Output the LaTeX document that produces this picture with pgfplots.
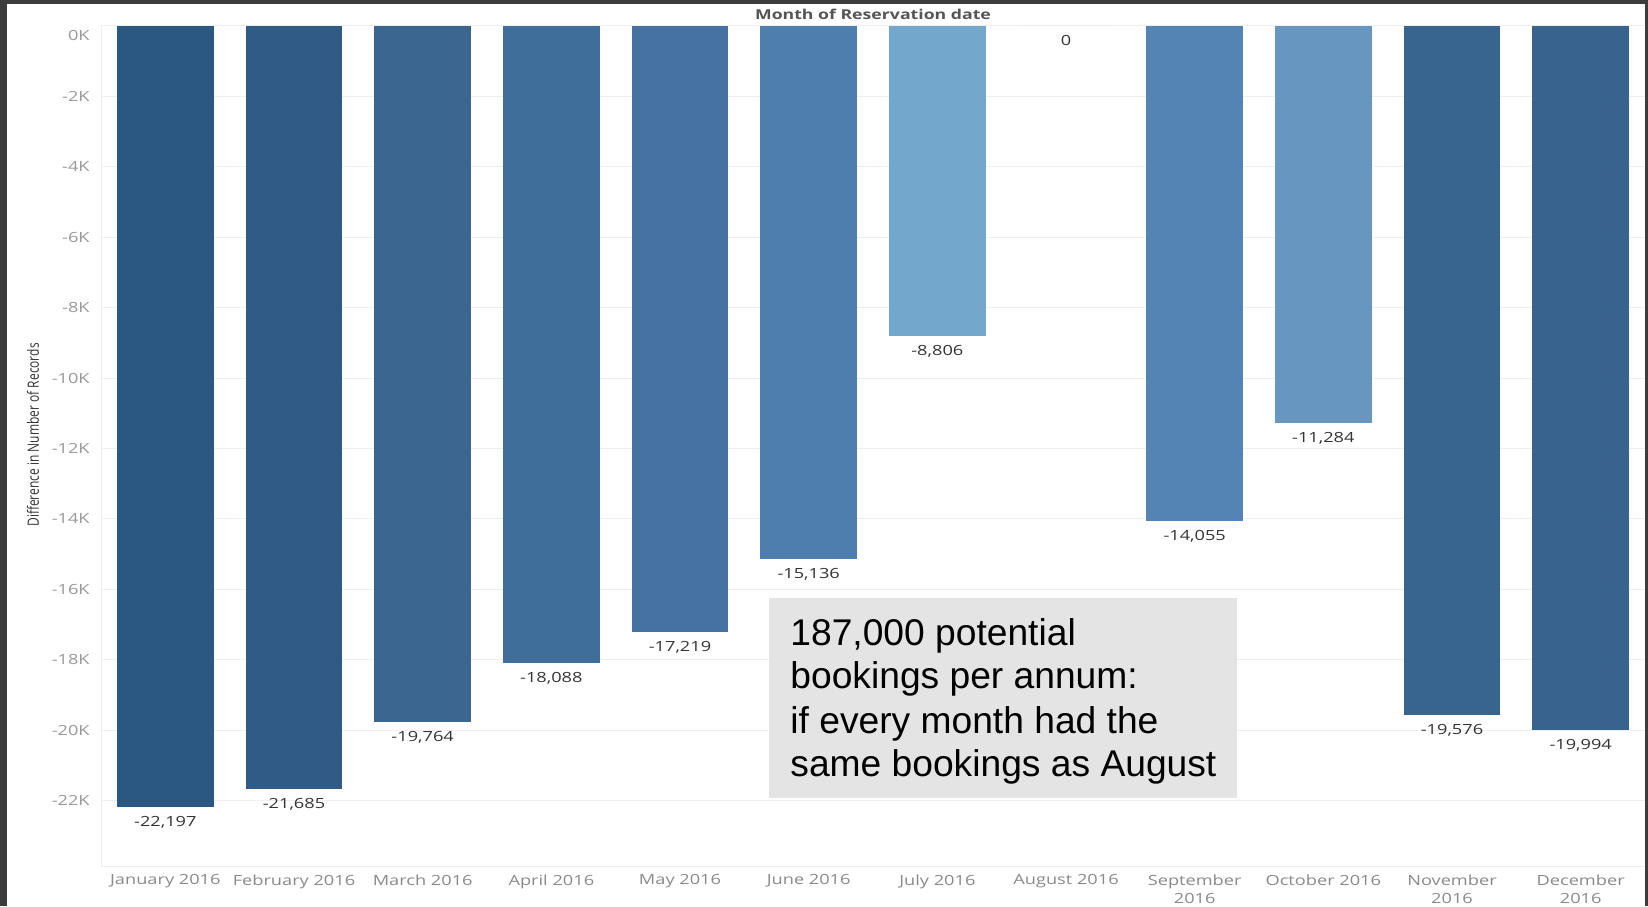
\documentclass[border=0pt]{standalone}
\usepackage{pgfplots}
\pgfplotsset{compat=1.18}
\usepackage{fontspec}
\usepackage{graphicx}
\setmainfont{Open Sans}
\newfontfamily\arial{Liberation Sans}
\newcommand\wide[1]{\scalebox{1.3}[1]{#1}}
\definecolor{cJan}{HTML}{2B5783}
\definecolor{cFeb}{HTML}{2F5B86}
\definecolor{cMar}{HTML}{3A6690}
\definecolor{cApr}{HTML}{3F6E9B}
\definecolor{cMay}{HTML}{4572A0}
\definecolor{cJun}{HTML}{4E7EAD}
\definecolor{cJul}{HTML}{74A7CC}
\definecolor{cAug}{HTML}{BCD5EA}
\definecolor{cSep}{HTML}{5484B3}
\definecolor{cOct}{HTML}{6797C0}
\definecolor{cNov}{HTML}{38658F}
\definecolor{cDec}{HTML}{38638E}
\definecolor{frame}{HTML}{3C3C3C}
\definecolor{gridc}{HTML}{EFEFEF}
\definecolor{xtickc}{HTML}{8A8A8A}
\definecolor{ytickc}{HTML}{999999}
\definecolor{valc}{HTML}{333333}
\definecolor{titlec}{HTML}{555555}
\definecolor{boxc}{HTML}{E4E4E4}
\newcommand\mybar[3]{\addplot[fill=#1, draw=none] coordinates {(#2,#3)};}
\begin{document}
\begin{tikzpicture}[x=1pt,y=1pt]
\useasboundingbox (0,0) rectangle (824,453);
\fill[white] (0,0) rectangle (824,453);
\begin{axis}[
  at={(50.5pt,20pt)}, anchor=south west,
  scale only axis, width=772pt, height=420pt,
  xmin=-0.5, xmax=11.5, ymin=-23860, ymax=0,
  ybar, bar width=0.75, bar shift=0pt,
  xtick={0,...,11},
  xticklabels={\wide{January 2016},\wide{February 2016},\wide{March 2016},\wide{April 2016},\wide{May 2016},\wide{June 2016},\wide{July 2016},\wide{August 2016},{\wide{September}\\\wide{2016}},\wide{October 2016},{\wide{November}\\\wide{2016}},{\wide{December}\\\wide{2016}}},
  ytick={-22000,-20000,-18000,-16000,-14000,-12000,-10000,-8000,-6000,-4000,-2000},
  yticklabels={\wide{-22K},\wide{-20K},\wide{-18K},\wide{-16K},\wide{-14K},\wide{-12K},\wide{-10K},\wide{-8K},\wide{-6K},\wide{-4K},\wide{-2K}},
  extra y ticks={0}, extra y tick labels={\wide{0K}},
  extra y tick style={yticklabel style={yshift=-5pt}},
  major tick length=0pt,
  ymajorgrids, grid style={draw=gridc, line width=0.5pt},
  axis line style={draw=gridc, line width=0.5pt},
  xticklabel style={font=\fontsize{7}{9.3}\selectfont, text=xtickc, align=center, anchor=north, inner sep=0pt, yshift=-4pt},
  yticklabel style={font=\fontsize{7}{8}\selectfont, text=ytickc, anchor=east, inner sep=0pt, xshift=-5.5pt},
  /pgf/number format/assume math mode=true,
  nodes near coords={\wide{\pgfmathprintnumber[1000 sep={,}]{\pgfplotspointmeta}}},
  nodes near coords align={below},
  every node near coord/.append style={font=\fontsize{7}{8}\selectfont, text=valc, inner sep=0pt, yshift=-4.5pt},
]
\mybar{cJan}{0}{-22197}
\mybar{cFeb}{1}{-21685}
\mybar{cMar}{2}{-19764}
\mybar{cApr}{3}{-18088}
\mybar{cMay}{4}{-17219}
\mybar{cJun}{5}{-15136}
\mybar{cJul}{6}{-8806}
\mybar{cAug}{7}{0}
\mybar{cSep}{8}{-14055}
\mybar{cOct}{9}{-11284}
\mybar{cNov}{10}{-19576}
\mybar{cDec}{11}{-19994}
\end{axis}
\node[font=\bfseries\fontsize{6.8}{8}\selectfont, text=titlec] at (436.5,446) {\wide{Month of Reservation date}};
\node[rotate=90, font=\fontsize{6}{7}\selectfont, text=valc] at (16.5,235.5) {\scalebox{1}[1.3]{Difference in Number of Records}};
\fill[boxc] (384.5,54) rectangle (618.5,154);
\begin{scope}[every node/.style={anchor=base west, inner sep=0pt, font=\arial\fontsize{18.6}{22}\selectfont, text=black}]
\node at (395,130.5) {187,000 potential};
\node at (395,108.8) {bookings per annum:};
\node at (395,86.3) {if every month had the};
\node at (395,64.7) {same bookings as August};
\end{scope}
\fill[frame] (0,0) rectangle (3.5,453);
\fill[frame] (0,451) rectangle (824,453);
\fill[frame] (822.5,0) rectangle (824,453);
\end{tikzpicture}
\end{document}
